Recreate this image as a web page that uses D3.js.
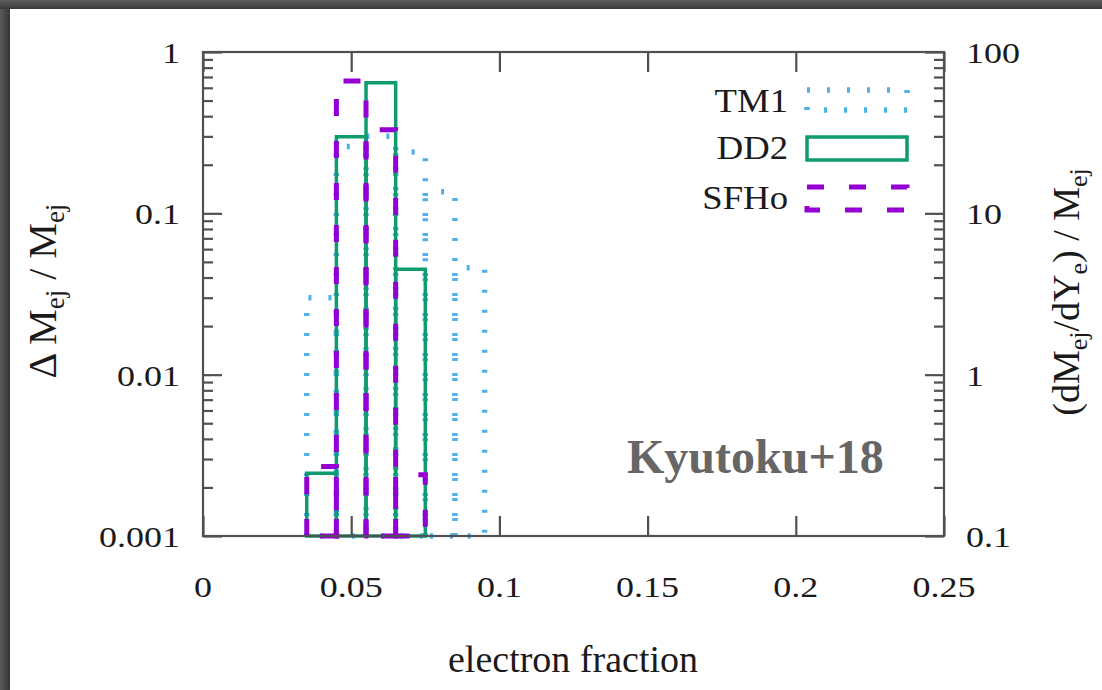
<!DOCTYPE html>
<head>
<meta charset="utf-8">
<style>
body, html {
  margin: 0;
  padding: 0;
  background: #4b4b4b;
}
svg { display: block; }
.serif { font-family: "Liberation Serif", "Times New Roman", Times, "Nimbus Roman", serif; }
.frame {
  fill: none;
  stroke: #505050;
  stroke-width: 2.2;
}
.tick line {
  stroke: #505050;
  stroke-width: 2.2;
}
.bin { fill: none; }
.tm1  { stroke: #4fb0ea; stroke-width: 5.5; stroke-dasharray: 3 17; }
.dd2  { stroke: #0e9b70; stroke-width: 3.5; }
.sfho { stroke: #9400d3; stroke-width: 5; stroke-dasharray: 17 25; }
</style>
<script src="https://cdn.jsdelivr.net/npm/d3@7"></script>
</head>
<body>
<script>

// histogram bins in Ye (width 0.01), fraction of ejecta mass per bin
var binEdges = [0.035, 0.045, 0.055, 0.065, 0.075, 0.085, 0.095];
var tm1  = [0.030, 0.26, 0.30, 0.24, 0.136, 0.046];
var dd2  = [0.00245, 0.298, 0.645, 0.045, null, null];
var sfho = [0.0027, 0.66, 0.33, 0.0024, null, null];

var seriesNames = ["TM1", "DD2", "SFHo"];
var seriesClass = ["tm1", "dd2", "sfho"];

var xTicks = [0, 0.05, 0.1, 0.15, 0.2, 0.25];
var xTickLabels = ["0", "0.05", "0.1", "0.15", "0.2", "0.25"];
var yTicks = [0.001, 0.01, 0.1, 1];
var yTickLabels = ["0.001", "0.01", "0.1", "1"];
var y2Ticks = [0.1, 1, 10, 100];
var y2TickLabels = ["0.1", "1", "10", "100"];

//==========================================
var width = 1102,
    height = 690,
    plotL = 203, plotR = 944,
    plotT = 52, plotB = 536;

var x = d3.scaleLinear().domain([0, 0.25]).range([plotL, plotR]);
var y = d3.scaleLog().domain([0.001, 1]).range([plotB, plotT]);
var y2 = d3.scaleLog().domain([0.1, 100]).range([plotB, plotT]);

var svg = d3.select("body").append("svg")
    .attr("width", width)
    .attr("height", height);

// dark surround with a soft shadow on the inner edge
var defs = svg.append("defs");
var gl = defs.append("linearGradient").attr("id", "shL");
gl.append("stop").attr("offset", 0).attr("stop-color", "#5a5a5a");
gl.append("stop").attr("offset", 1).attr("stop-color", "#353535");
var gt = defs.append("linearGradient").attr("id", "shT")
    .attr("x1", 0).attr("y1", 0).attr("x2", 0).attr("y2", 1);
gt.append("stop").attr("offset", 0).attr("stop-color", "#5e5e5e");
gt.append("stop").attr("offset", 1).attr("stop-color", "#3a3a3a");

svg.append("rect").attr("width", width).attr("height", height).attr("fill", "#4b4b4b");
svg.append("rect").attr("width", 10).attr("height", height).attr("fill", "url(#shL)");
svg.append("rect").attr("width", width).attr("height", 9).attr("fill", "url(#shT)");
svg.append("rect").attr("x", 10).attr("y", 9)
    .attr("width", width - 10).attr("height", height - 9).attr("fill", "#fff");

//--------------------------------------
function label(px, py, txt, anchor, size, sx, fill) {
  return svg.append("text")
      .attr("class", "serif")
      .attr("transform", "translate(" + px + "," + py + ") scale(" + sx + ",1)")
      .attr("text-anchor", anchor)
      .attr("font-size", size)
      .attr("fill", fill || "#1a1a1a")
      .text(txt);
}

//--------------------------------------
function binPath(v, i) {
  var p = d3.path(),
      x0 = x(binEdges[i]), x1 = x(binEdges[i + 1]),
      yb = y(0.001), yt = y(v);
  p.moveTo(x0, yb);
  p.lineTo(x0, yt);
  p.lineTo(x1, yt);
  p.lineTo(x1, yb);
  p.closePath();
  return p.toString();
}

function drawSeries(vals, cls) {
  svg.append("g").selectAll("path")
      .data(vals.map(function(v, i) { return {v: v, i: i}; })
                .filter(function(d) { return d.v != null; }))
    .enter().append("path")
      .attr("class", "bin " + cls)
      .attr("d", function(d) { return binPath(d.v, d.i); });
}

drawSeries(tm1, "tm1");
drawSeries(dd2, "dd2");
drawSeries(sfho, "sfho");

//--------------------------------------
// ticks, all pointing into the frame
function noDomain(g) { g.select(".domain").remove(); }

var yMinor = y.ticks().filter(function(t) {
  return yTicks.every(function(m) { return Math.abs(t / m - 1) > 1e-6; });
});

svg.append("g").attr("transform", "translate(" + plotL + ",0)")
    .call(d3.axisLeft(y).tickValues(yTicks).tickSize(-19).tickFormat("")).call(noDomain);
svg.append("g").attr("transform", "translate(" + plotL + ",0)")
    .call(d3.axisLeft(y).tickValues(yMinor).tickSize(-10).tickFormat("")).call(noDomain);
svg.append("g").attr("transform", "translate(" + plotR + ",0)")
    .call(d3.axisRight(y2).tickValues(y2Ticks).tickSize(-19).tickFormat("")).call(noDomain);
svg.append("g").attr("transform", "translate(" + plotR + ",0)")
    .call(d3.axisRight(y).tickValues(yMinor).tickSize(-10).tickFormat("")).call(noDomain);
svg.append("g").attr("transform", "translate(0," + plotB + ")")
    .call(d3.axisBottom(x).tickValues(xTicks).tickSize(-20).tickFormat("")).call(noDomain);
svg.append("g").attr("transform", "translate(0," + plotT + ")")
    .call(d3.axisTop(x).tickValues(xTicks).tickSize(-20).tickFormat("")).call(noDomain);

svg.append("rect").attr("class", "frame")
    .attr("x", plotL).attr("y", plotT)
    .attr("width", plotR - plotL).attr("height", plotB - plotT);

// tick labels
xTicks.forEach(function(t, i) { label(x(t), 597, xTickLabels[i], "middle", 30, 1.2); });
yTicks.forEach(function(t, i) { label(180, y(t) + 11, yTickLabels[i], "end", 30, 1.2); });
y2Ticks.forEach(function(t, i) { label(966, y2(t) + 11, y2TickLabels[i], "start", 30, 1.2); });

//--------------------------------------
// axis titles
svg.append("text").attr("class", "serif")
    .attr("x", 573).attr("y", 672)
    .attr("text-anchor", "middle").attr("font-size", 38).attr("fill", "#1a1a1a")
    .text("electron fraction");

function subTitle(px, py, size, parts) {
  var t = svg.append("text").attr("class", "serif")
      .attr("transform", "translate(" + px + "," + py + ") rotate(-90)")
      .attr("text-anchor", "middle").attr("font-size", size).attr("fill", "#1a1a1a");
  parts.forEach(function(p) {
    t.append("tspan")
        .attr("font-size", p[1] ? Math.round(size * 0.68) : size)
        .attr("dy", p[1] ? 8 : (p[2] ? -8 : 0))
        .text(p[0]);
  });
}
// [text, subscript, back to baseline]
subTitle(56, 291, 40, [["Δ M", 0, 0], ["ej", 1, 0], [" / M", 0, 1], ["ej", 1, 0]]);
subTitle(1079, 292, 38, [["(dM", 0, 0], ["ej", 1, 0], ["/dY", 0, 1], ["e", 1, 0],
                         [") / M", 0, 1], ["ej", 1, 0]]);

//--------------------------------------
// legend
var legY = [90, 137, 187];
var legH = [20, 23, 23];
seriesNames.forEach(function(name, i) {
  label(788, legY[i] + 22, name, "end", 34, 1.08);
  svg.append("rect")
      .attr("class", "bin " + seriesClass[i])
      .attr("x", 807).attr("y", legY[i])
      .attr("width", 100).attr("height", legH[i]);
});

label(627, 473, "Kyutoku+18", "start", 48, 1, "#666")
    .attr("font-weight", "bold");

</script>
</body>
